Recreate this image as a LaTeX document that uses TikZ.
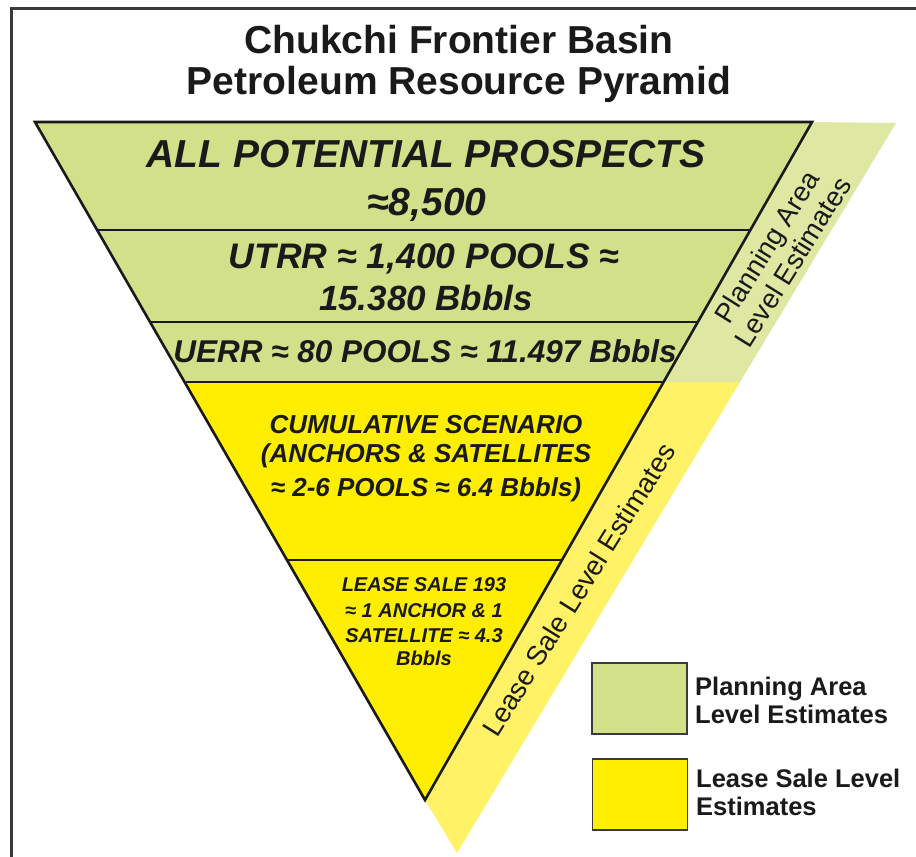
\documentclass[tikz,border=0pt]{standalone}
\usepackage{fontspec}
\setmainfont{Liberation Sans}
\usetikzlibrary{calc}
\definecolor{tgreen}{HTML}{D3E08A}
\definecolor{bgreen}{HTML}{DFE8A2}
\definecolor{tyellow}{HTML}{FFEE00}
\definecolor{byellow}{HTML}{FFF266}
\definecolor{ink}{HTML}{1A1A1A}
\definecolor{framegray}{HTML}{3A3A3A}
\tikzset{
  pt/.style={text=ink, inner sep=0pt, anchor=base, font=\fontsize{#1}{#1}\selectfont\bfseries\itshape},
  ttl/.style={text=ink, inner sep=0pt, anchor=base, font=\fontsize{39}{39}\selectfont\bfseries},
  rt/.style={text=ink, inner sep=0pt, anchor=base, rotate=58, font=\fontsize{27.5}{27.5}\selectfont},
  lt/.style={text=ink, inner sep=0pt, anchor=base west, font=\fontsize{25.5}{25.5}\selectfont\bfseries},
  legbox/.style={draw=framegray, line width=1.6pt, inner sep=0pt, minimum width=95pt, minimum height=71pt},
  divider/.style={draw=ink, line width=2pt},
  outline/.style={draw=ink, line width=2.6pt, line join=miter},
  framel/.style={draw=framegray, line width=3pt}
}
\begin{document}
\begin{tikzpicture}[x=1pt, y=-1pt]
\useasboundingbox (0,0) rectangle (916,857);
\fill[white] (0,0) rectangle (916,857);
% frame
\draw[framel] (916,8.5) -- (11.5,8.5) -- (11.5,857);
% key points
\coordinate (TL) at (35,122);
\coordinate (TR) at (812,122);
\coordinate (A) at (425,800);
\coordinate (BT) at (896,123);
\coordinate (BM) at (740,382);
\coordinate (BB) at (457,853);
\coordinate (L1) at ($(TL)!0.1593!(A)$);
\coordinate (R1) at ($(TR)!0.1593!(A)$);
\coordinate (L2) at ($(TL)!0.2950!(A)$);
\coordinate (R2) at ($(TR)!0.2950!(A)$);
\coordinate (L3) at ($(TL)!0.3835!(A)$);
\coordinate (R3) at ($(TR)!0.3835!(A)$);
\coordinate (L4) at ($(TL)!0.6460!(A)$);
\coordinate (R4) at ($(TR)!0.6460!(A)$);
% side bands
\fill[bgreen] (TR) -- (BT) -- (BM) -- (R3) -- cycle;
\fill[byellow] (R3) -- (BM) -- (BB) -- (A) -- cycle;
% pyramid fills
\fill[tgreen] (TL) -- (TR) -- (R3) -- (L3) -- cycle;
\fill[tyellow] (L3) -- (R3) -- (A) -- cycle;
% dividers
\draw[divider] (L1) -- (R1);
\draw[divider] (L2) -- (R2);
\draw[divider] (L3) -- (R3);
\draw[divider] (L4) -- (R4);
\draw[outline] (TL) -- (TR) -- (A) -- cycle;
% title
\node[ttl] (title1) at (459,53) {Chukchi Frontier Basin};
\node[ttl] (title2) at (459,94) {Petroleum Resource Pyramid};
% pyramid texts
\node[pt=39] (all) at (426,167) {ALL POTENTIAL PROSPECTS};
\node[pt=39] (n8500) at (427,215) {≈8,500};
\node[pt=35.5] (utrr) at (424,268) {UTRR ≈ 1,400 POOLS ≈};
\node[pt=35] (u15) at (426,310) {15.380 Bbbls};
\node[pt=31.5] (uerr) at (425,362) {UERR ≈ 80 POOLS ≈ 11.497 Bbbls};
\node[pt=26] (cum1) at (426,433) {CUMULATIVE SCENARIO};
\node[pt=26] (cum2) at (426,462) {(ANCHORS \& SATELLITES};
\node[pt=26] (cum3) at (426,496) {≈ 2-6 POOLS ≈ 6.4 Bbbls)};
\node[pt=20] (ls1) at (424,591) {LEASE SALE 193};
\node[pt=20] (ls2) at (424,617) {≈ 1 ANCHOR \& 1};
\node[pt=20] (ls3) at (424,642) {SATELLITE ≈ 4.3};
\node[pt=20] (ls4) at (424,665) {Bbbls};
% rotated band labels
\node[rt] (pa1) at (775,252) {Planning Area};
\node[rt] (pa2) at (801,267) {Level Estimates};
\node[rt] (lsl) at (587,595) {Lease Sale Level Estimates};
% legend
\node[legbox, fill=tgreen] (lg1) at (639.5,698.5) {};
\node[legbox, fill=tyellow] (lg2) at (640,794.5) {};
\node[lt] (lgt1) at (695,695) {Planning Area};
\node[lt] (lgt2) at (695,723) {Level Estimates};
\node[lt] (lgt3) at (696,787) {Lease Sale Level};
\node[lt] (lgt4) at (696,815) {Estimates};
\end{tikzpicture}
\end{document}
